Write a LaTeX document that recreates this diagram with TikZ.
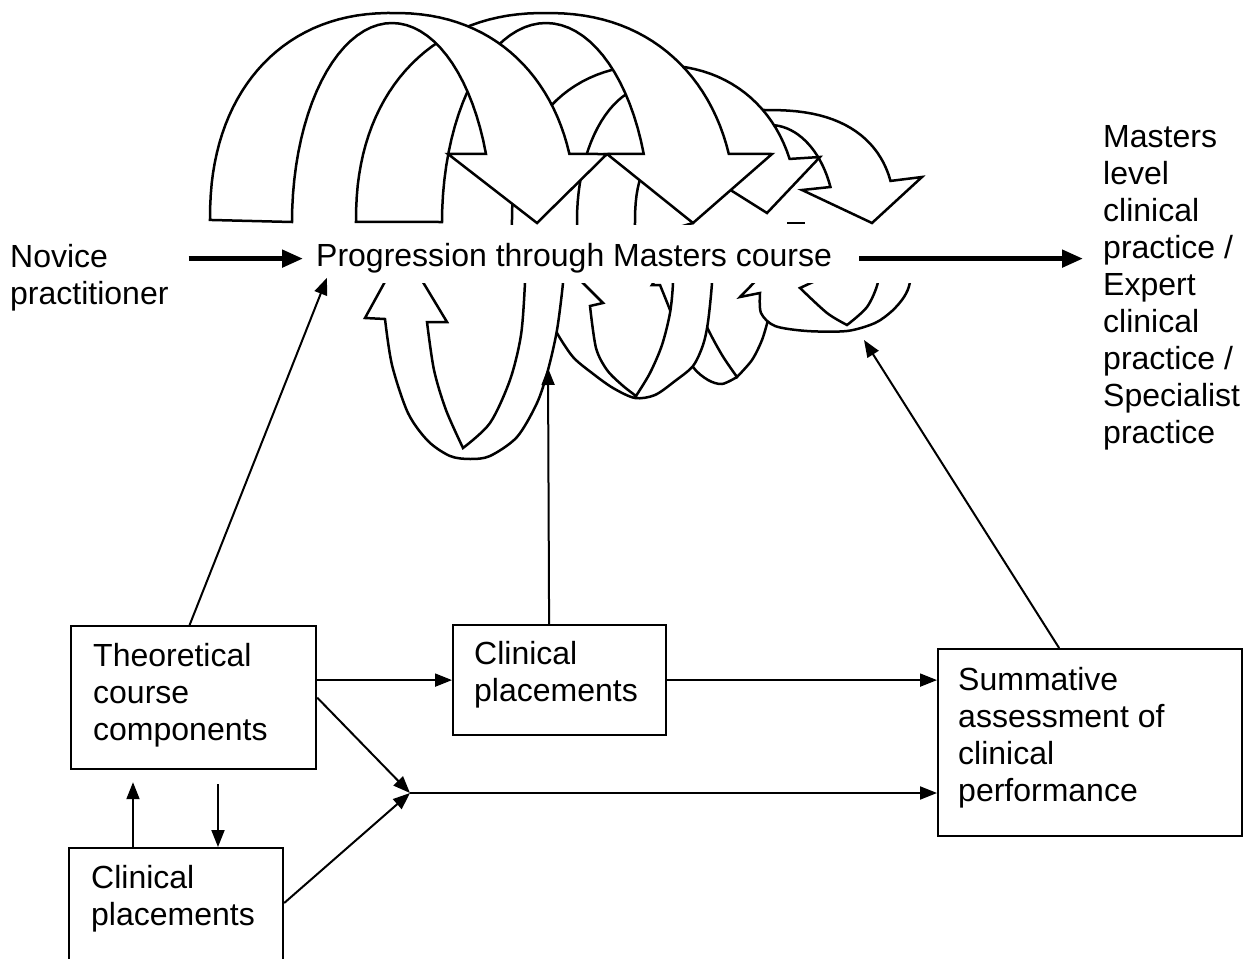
\documentclass[tikz,border=0pt]{standalone}
\usepackage{fontspec}
\setmainfont{Liberation Sans}
\usetikzlibrary{arrows.meta}
\begin{document}
\begin{tikzpicture}[x=1pt,y=-1pt,
  rib/.style={draw=black, fill=white, line width=2.5pt, line join=miter},
  bx/.style={draw=black, line width=2.2pt, anchor=north west, inner sep=0pt},
  txt/.style={font=\fontsize{32}{37}\selectfont, inner sep=0pt, anchor=north west, align=left},
  arr/.style={line width=2pt, -{Triangle[length=17pt,width=13pt]}},
  bigarr/.style={line width=4.8pt, -{Triangle[length=21pt,width=17pt]}}]
\useasboundingbox (0,0) rectangle (1255,958);

% ---------- top ribbons (back to front) ----------
% T4
\draw[rib] (635,240) -- plot[domain=180:343.1, samples=50, variable=\t]
  ({765+130*sign(cos(\t))*(abs(cos(\t))+0.0001)^0.8}, {223-113*(abs(sin(\t))+0.0001)^0.8})
  -- (922,177) -- (872,223) -- (802,190)
  -- plot[domain=338.45:200, samples=40, variable=\t] ({770+65*cos(\t)}, {223+98*sin(\t)})
  -- (693,223) -- cycle;
% T3
\draw[rib] (512,240) -- plot[domain=180:339.2, samples=50, variable=\t]
  ({655+143*sign(cos(\t))*(abs(cos(\t))+0.0001)^0.9}, {220-155*(abs(sin(\t))+0.0001)^0.9})
  -- (820,157) -- (767,213) -- (686,162)
  -- plot[domain=333.9:180, samples=40, variable=\t] ({652+75*cos(\t)}, {220+134*sin(\t)})
  -- (577,240) -- cycle;
% T2
\draw[rib] plot[domain=180:343.3, samples=60, variable=\t]
  ({546+190*sign(cos(\t))*(abs(cos(\t))+0.0001)^0.9}, {222-209*(abs(sin(\t))+0.0001)^0.9})
  -- (772,154) -- (693,223) -- (607,154)
  -- plot[domain=340:180, samples=40, variable=\t] ({546+104*cos(\t)}, {222+199*sin(\t)})
  -- cycle;
% T1
\draw[rib] plot[domain=180:343.7, samples=60, variable=\t]
  ({393+183*sign(cos(\t))*(abs(cos(\t))+0.0001)^0.9}, {220-207*(abs(sin(\t))+0.0001)^0.9})
  -- (607,154) -- (537,223) -- (448,154)
  -- plot[domain=340:180, samples=40, variable=\t] ({392+100*cos(\t)}, {222+199*sin(\t)})
  -- cycle;

% ---------- bottom loops (back to front) ----------
% B3
\draw[rib] (678,245) -- (652,285)
  -- plot[smooth] coordinates {(660,285) (670,310) (681,340) (693,367) (708,380) (722,384) (737,377)}
  -- plot[smooth] coordinates {(737,377) (752,360) (762,340) (768,320)}
  -- plot[smooth] coordinates {(768,320) (778,300) (785,284) (787,250)}
  -- (768,250) -- (768,320)
  -- plot[smooth] coordinates {(768,320) (762,340) (752,360) (737,377)}
  -- plot[smooth] coordinates {(737,377) (722,355) (707,327) (700,305) (696,286)}
  -- (708,286) -- cycle;
% B4
\draw[rib] (780,256) -- (740,297)
  -- plot[smooth] coordinates {(760,293) (761,313) (775,326) (807,331) (847,331) (875,323) (892,311) (904,297) (910,282) (912,250)}
  -- plot[smooth] coordinates {(880,250) (878,282) (867,307) (847,325)}
  -- plot[smooth] coordinates {(847,325) (827,313) (800,288)}
  -- (813,282) -- cycle;
% B2
\draw[rib] (550,250) -- (540,318)
  -- plot[smooth] coordinates {(552,319) (557,333) (573,357) (592,373) (613,388) (635,398) (655,395) (675,381) (693,366) (703,345) (708,322) (712,283) (713,250)}
  -- plot[smooth] coordinates {(673,250) (673,283) (670,313) (662,345) (650,373) (636,396)}
  -- plot[smooth] coordinates {(636,396) (622,385) (607,370) (596,348) (590,306)}
  -- (603,303) -- cycle;
% B1
\draw[rib] (403,249) -- (365,318)
  -- plot[smooth] coordinates {(385,319) (392,365) (408,413) (428,441) (450,456) (470,459) (490,456) (517,437) (537,403) (548,370) (557,330) (563,283) (565,250)}
  -- plot[smooth] coordinates {(526,250) (525,283) (521,335) (510,380) (490,423) (463,448)}
  -- plot[smooth] coordinates {(463,448) (446,410) (434,370) (427,322)}
  -- (447,322) -- cycle;

% band behind the course title
\fill[white] (300,224.5) rectangle (935,282.5);
\draw[line width=2.2pt] (787,223) -- (805,223);

% ---------- texts ----------
\node[txt] (novice) at (10,244.5) {Novice\\practitioner};
\node[txt] (prog) at (316,243.5) {Progression through Masters course};
\node[txt] (mast) at (1103,125.5) {Masters\\level\\clinical\\practice /\\Expert\\clinical\\practice /\\Specialist\\practice};

% ---------- boxes ----------
\node[bx, minimum width=245pt, minimum height=143pt] (theo) at (70,625) {};
\node[txt] (theot) at (93,643.5) {Theoretical\\course\\components};
\node[bx, minimum width=213pt, minimum height=110pt] (clin1) at (452,624) {};
\node[txt] (clin1t) at (474,641.5) {Clinical\\placements};
\node[bx, minimum width=304pt, minimum height=187pt] (summ) at (937,648) {};
\node[txt] (summt) at (958,667.5) {Summative\\assessment of\\clinical\\performance};
\node[bx, minimum width=214pt, minimum height=160pt] (clin2) at (68,847) {};
\node[txt] (clin2t) at (91,865.5) {Clinical\\placements};

% ---------- connectors ----------
\coordinate (cp) at (548,368);
\coordinate (sp) at (864,340);
\coordinate (J) at (410,793);
\draw[bigarr] ([xshift=20pt]novice.east |- prog.west) -- ([xshift=-13pt]prog.west);
\draw[bigarr] ([xshift=27pt]prog.east) -- ([xshift=-20pt]prog.east -| mast.west);
\draw[arr] ([xshift=-4pt]theo.north) -- ([xshift=11pt,yshift=-4pt]prog.south west);
\draw[arr] ([xshift=-10.5pt]clin1.north) -- (cp);
\draw[arr] ([xshift=-31pt]summ.north) -- (sp);
\draw[arr] (theo.east |- clin1.west) -- (clin1.west);
\draw[arr] (clin1.east) -- (clin1.east -| summ.west);
\draw[arr] (theo.east) -- (J);
\draw[arr] ([yshift=-56pt]clin2.north east) -- (J);
\draw[arr] (J) -- (J -| summ.west);
\draw[arr] ([xshift=65pt]clin2.north west) -- ([xshift=63pt,yshift=-12pt]theo.south west);
\draw[arr] ([xshift=148pt,yshift=-14pt]theo.south west) -- ([xshift=150pt]clin2.north west);
\end{tikzpicture}
\end{document}
